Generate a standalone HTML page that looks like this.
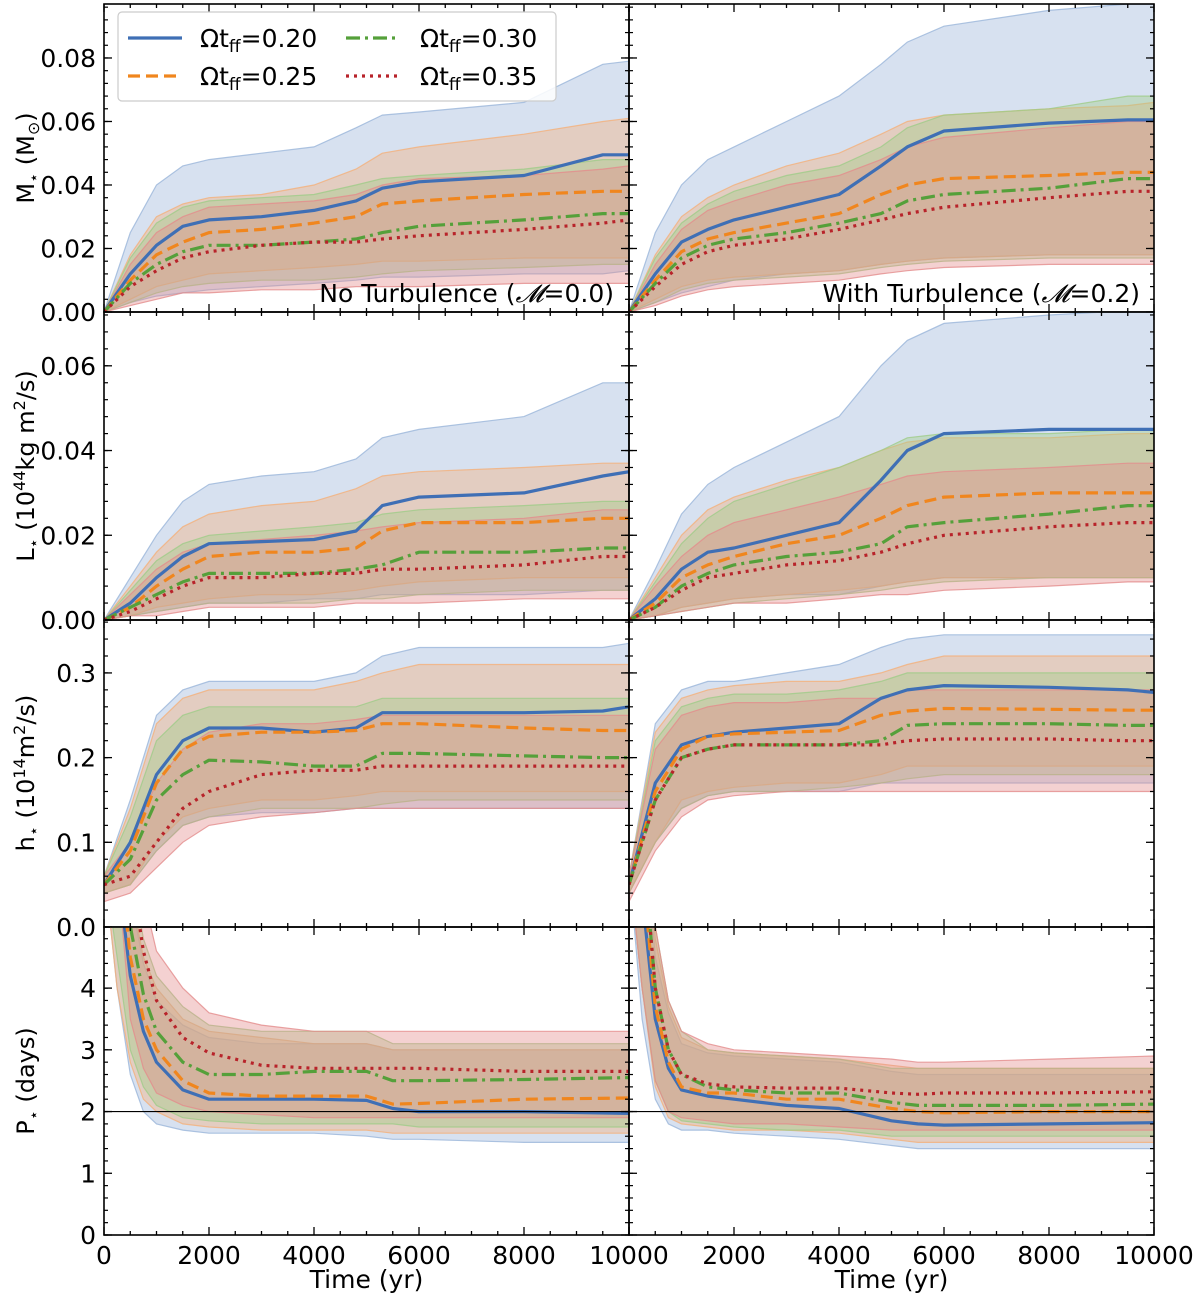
<!DOCTYPE html>
<html><head><meta charset="utf-8">
<style>
body{margin:0;background:#fff;}
svg{font-family:"DejaVu Sans","Liberation Sans",sans-serif;}
</style></head>
<body>
<svg id="fig" width="1200" height="1297" viewBox="0 0 1200 1297" xmlns="http://www.w3.org/2000/svg"></svg>
<script>
// ---------- data ----------
const seriesNames = ["Ωt_ff=0.20","Ωt_ff=0.25","Ωt_ff=0.30","Ωt_ff=0.35"];
const timeA = [0,500,1000,1500,2000,3000,4000,4800,5300,6000,8000,9500,10000];
const timeP = [0,250,500,750,1000,1500,2000,3000,4000,5000,5500,6000,8000,10000];
const xTicks = [0,2000,4000,6000,8000,10000];

const mNoLine = [[0,.012,.021,.027,.029,.030,.032,.035,.039,.041,.043,.0495,.0495],[0,.010,.018,.022,.025,.026,.028,.030,.034,.035,.037,.038,.038],[0,.009,.015,.019,.021,.021,.022,.023,.025,.027,.029,.031,.031],[0,.008,.013,.017,.019,.021,.022,.022,.023,.024,.026,.028,.029]];
const mNoUp = [[0,.025,.040,.046,.048,.050,.052,.058,.062,.063,.066,.078,.079],[0,.018,.030,.034,.036,.037,.040,.045,.050,.052,.056,.060,.061],[0,.017,.028,.033,.035,.036,.037,.040,.042,.043,.045,.048,.048],[0,.015,.025,.030,.033,.034,.035,.037,.040,.042,.043,.045,.046]];
const mNoLo = [[0,.003,.005,.006,.007,.008,.009,.010,.011,.011,.012,.012,.013],[0,.004,.008,.010,.012,.013,.014,.015,.016,.016,.017,.017,.017],[0,.003,.006,.008,.009,.010,.010,.011,.012,.013,.014,.015,.015],[0,.002,.004,.006,.006,.007,.007,.008,.008,.008,.009,.009,.009]];
const mTuLine = [[0,.012,.022,.026,.029,.033,.037,.046,.052,.057,.0595,.0605,.0605],[0,.010,.019,.023,.025,.028,.031,.037,.040,.042,.043,.044,.044],[0,.009,.017,.021,.023,.025,.028,.031,.035,.037,.039,.042,.042],[0,.008,.015,.019,.021,.023,.026,.029,.031,.033,.036,.038,.038]];
const mTuUp = [[0,.025,.040,.048,.052,.060,.068,.078,.085,.090,.095,.097,.097],[0,.018,.030,.036,.040,.046,.050,.056,.060,.062,.064,.065,.066],[0,.017,.028,.034,.038,.043,.046,.052,.058,.062,.064,.068,.068],[0,.015,.026,.032,.035,.040,.043,.048,.052,.055,.058,.060,.060]];
const mTuLo = [[0,.003,.006,.008,.010,.012,.013,.015,.016,.017,.018,.018,.018],[0,.004,.008,.010,.011,.012,.013,.015,.016,.017,.018,.018,.018],[0,.003,.007,.009,.010,.011,.012,.014,.015,.016,.017,.017,.017],[0,.002,.005,.007,.008,.009,.010,.012,.013,.014,.015,.015,.015]];
const lNoLine = [[0,.004,.010,.015,.018,.0185,.019,.021,.027,.029,.030,.034,.035],[0,.003,.008,.012,.015,.016,.016,.017,.021,.023,.023,.024,.024],[0,.003,.006,.009,.011,.011,.011,.012,.013,.016,.016,.017,.017],[0,.002,.005,.008,.010,.010,.011,.011,.012,.012,.013,.015,.015]];
const lNoUp = [[0,.010,.020,.028,.032,.034,.035,.038,.043,.045,.048,.056,.056],[0,.008,.016,.022,.025,.027,.028,.031,.034,.035,.036,.037,.037],[0,.007,.014,.018,.020,.021,.022,.023,.025,.026,.027,.028,.028],[0,.006,.012,.016,.018,.019,.020,.021,.022,.023,.024,.026,.026]];
const lNoLo = [[0,.001,.002,.003,.004,.004,.005,.005,.006,.006,.006,.007,.007],[0,.001,.003,.004,.005,.006,.006,.007,.008,.009,.010,.010,.010],[0,.001,.002,.003,.004,.004,.004,.005,.005,.006,.007,.007,.007],[0,.001,.001,.002,.003,.003,.003,.004,.004,.004,.005,.005,.005]];
const lTuLine = [[0,.005,.012,.016,.017,.020,.023,.033,.040,.044,.045,.045,.045],[0,.004,.010,.013,.015,.018,.020,.024,.027,.029,.030,.030,.030],[0,.003,.008,.011,.013,.015,.016,.018,.022,.023,.025,.027,.027],[0,.003,.007,.010,.011,.013,.014,.016,.018,.020,.022,.023,.023]];
const lTuUp = [[0,.012,.025,.032,.036,.042,.048,.060,.066,.070,.072,.073,.073],[0,.010,.020,.026,.029,.033,.036,.040,.042,.043,.043,.044,.044],[0,.009,.018,.024,.028,.032,.036,.040,.043,.044,.044,.045,.045],[0,.008,.015,.020,.023,.026,.029,.032,.034,.035,.036,.037,.037]];
const lTuLo = [[0,.001,.003,.004,.005,.006,.006,.008,.009,.010,.010,.010,.010],[0,.001,.003,.004,.005,.006,.007,.008,.009,.010,.010,.010,.010],[0,.001,.002,.003,.004,.005,.006,.007,.008,.009,.010,.010,.010],[0,.001,.002,.003,.004,.004,.005,.006,.006,.007,.008,.009,.009]];
const hNoLine = [[.05,.10,.18,.22,.235,.235,.23,.235,.253,.253,.253,.255,.26],[.05,.09,.17,.21,.225,.23,.23,.232,.24,.24,.235,.232,.232],[.05,.08,.15,.18,.197,.195,.19,.19,.205,.205,.202,.20,.20],[.05,.06,.10,.14,.16,.18,.185,.185,.19,.19,.19,.19,.19]];
const hNoUp = [[.06,.15,.25,.28,.29,.29,.29,.30,.32,.33,.33,.33,.335],[.06,.14,.24,.27,.28,.28,.28,.29,.30,.31,.31,.31,.31],[.06,.13,.22,.25,.26,.26,.26,.26,.27,.27,.27,.27,.27],[.06,.10,.17,.21,.23,.24,.24,.245,.25,.25,.25,.25,.25]];
const hNoLo = [[.04,.05,.09,.12,.13,.135,.135,.14,.14,.14,.14,.14,.14],[.04,.05,.10,.13,.14,.15,.15,.155,.16,.16,.16,.16,.16],[.04,.05,.09,.12,.13,.14,.14,.14,.145,.15,.15,.15,.15],[.03,.04,.07,.10,.12,.13,.135,.14,.14,.14,.14,.14,.14]];
const hTuLine = [[.05,.17,.215,.225,.23,.235,.24,.27,.28,.285,.283,.28,.277],[.05,.16,.21,.225,.228,.23,.232,.25,.255,.258,.257,.256,.256],[.05,.15,.20,.21,.215,.215,.215,.22,.238,.24,.24,.238,.238],[.05,.15,.20,.21,.215,.215,.215,.215,.22,.222,.222,.22,.22]];
const hTuUp = [[.06,.24,.28,.29,.29,.30,.31,.33,.34,.345,.345,.345,.345],[.06,.23,.27,.28,.285,.29,.29,.30,.31,.32,.32,.32,.32],[.06,.22,.26,.27,.275,.275,.28,.29,.30,.30,.30,.30,.30],[.06,.21,.25,.26,.265,.265,.27,.27,.28,.28,.28,.28,.28]];
const hTuLo = [[.04,.10,.14,.155,.16,.16,.16,.17,.17,.17,.17,.17,.17],[.04,.10,.15,.16,.165,.17,.17,.18,.19,.19,.19,.19,.19],[.04,.10,.14,.155,.16,.16,.165,.17,.175,.18,.18,.18,.18],[.03,.09,.13,.15,.155,.16,.16,.16,.16,.16,.16,.16,.16]];
const pNoLine = [[8,6,4.2,3.3,2.8,2.35,2.2,2.2,2.2,2.18,2.05,2.0,2.0,1.97],[8,6.5,4.5,3.5,3.0,2.5,2.3,2.25,2.25,2.25,2.12,2.13,2.2,2.22],[8,7,5,3.9,3.3,2.8,2.6,2.6,2.65,2.65,2.5,2.5,2.52,2.55],[9,9,6,4.6,3.8,3.2,2.95,2.75,2.7,2.7,2.7,2.7,2.65,2.65]];
const pNoUp = [[10,8,5.5,4.4,3.8,3.4,3.2,3.1,3.1,3.1,3.0,3.0,3.0,3.0],[10,8,5.6,4.5,4.0,3.5,3.3,3.2,3.1,3.1,3.0,3.0,3.0,3.0],[10,9,6,4.8,4.2,3.7,3.4,3.3,3.3,3.3,3.1,3.1,3.1,3.1],[12,12,8,5.5,4.6,4.0,3.6,3.4,3.3,3.3,3.3,3.3,3.3,3.3]];
const pNoLo = [[6,4,2.6,2.0,1.8,1.7,1.65,1.65,1.65,1.6,1.55,1.55,1.5,1.5],[6,4,2.8,2.2,2.0,1.8,1.75,1.7,1.7,1.7,1.65,1.65,1.65,1.65],[6,4.5,3,2.4,2.1,1.9,1.85,1.8,1.8,1.8,1.8,1.75,1.75,1.75],[7,6,3.5,2.7,2.3,2.1,2.0,1.95,1.9,1.9,1.9,1.9,1.9,1.9]];
const pTuLine = [[8,5.5,3.5,2.7,2.35,2.25,2.2,2.1,2.05,1.85,1.8,1.78,1.8,1.82],[8,6,3.7,2.8,2.4,2.3,2.3,2.2,2.2,2.05,2.0,1.98,2.0,2.0],[8,6.5,4,3,2.6,2.4,2.35,2.3,2.3,2.15,2.1,2.1,2.1,2.12],[8,6.5,4,3,2.6,2.45,2.4,2.38,2.38,2.3,2.28,2.3,2.3,2.32]];
const pTuUp = [[10,7,4.5,3.6,3.1,2.95,2.9,2.85,2.8,2.65,2.6,2.6,2.6,2.6],[10,7.5,4.8,3.7,3.2,3.0,2.95,2.9,2.85,2.75,2.7,2.7,2.7,2.7],[10,8,5,3.8,3.3,3.0,2.95,2.9,2.85,2.7,2.7,2.7,2.7,2.7],[10,8,5,3.8,3.3,3.1,3.0,2.95,2.9,2.85,2.8,2.8,2.85,2.9]];
const pTuLo = [[6,3.5,2.2,1.8,1.7,1.7,1.65,1.6,1.55,1.45,1.4,1.4,1.4,1.4],[6,4,2.4,1.9,1.8,1.75,1.7,1.7,1.65,1.55,1.5,1.5,1.5,1.5],[6,4,2.5,2.0,1.85,1.8,1.75,1.7,1.7,1.6,1.6,1.6,1.6,1.6],[6,4,2.5,2.0,1.9,1.85,1.8,1.8,1.75,1.7,1.7,1.7,1.7,1.7]];

const mTicks=[0,0.02,0.04,0.06,0.08], mTickLabels=["0.00","0.02","0.04","0.06","0.08"];
const lTicks=[0,0.02,0.04,0.06], lTickLabels=["0.00","0.02","0.04","0.06"];
const hTicks=[0,0.1,0.2,0.3], hTickLabels=["0.0","0.1","0.2","0.3"];
const pTicks=[0,1,2,3,4], pTickLabels=["0","1","2","3","4"];

// ---------- drawing ----------
const NS="http://www.w3.org/2000/svg";
const svg=document.getElementById('fig');
function mk(tag,attrs,parent){const e=document.createElementNS(NS,tag);for(const k in attrs)e.setAttribute(k,attrs[k]);(parent||svg).appendChild(e);return e;}
const colors=["#3f6fb5","#f0861e","#55a03a","#b8232a"];
const bandFill=["#9ab5da","#f4b07a","#9fcc88","#e38c8c"];
const dashes=["","12,6","14,5,3,5","3,5"];
const FS=25;
const X0L=104,X0R=629,PW=525;
const rows=[{top:4,bot:312,ymax:0.097,minor:0.004},{top:312,bot:620,ymax:0.0727,minor:0.004},{top:620,bot:927,ymax:0.3625,minor:0.02},{top:927,bot:1235,ymax:4.99,minor:0.2}];
const panels=[
 {r:0,c:0,t:timeA,line:mNoLine,up:mNoUp,lo:mNoLo,name:'mass-no-turbulence'},
 {r:0,c:1,t:timeA,line:mTuLine,up:mTuUp,lo:mTuLo,name:'mass-with-turbulence'},
 {r:1,c:0,t:timeA,line:lNoLine,up:lNoUp,lo:lNoLo,name:'angmom-no-turbulence'},
 {r:1,c:1,t:timeA,line:lTuLine,up:lTuUp,lo:lTuLo,name:'angmom-with-turbulence'},
 {r:2,c:0,t:timeA,line:hNoLine,up:hNoUp,lo:hNoLo,name:'specific-angmom-no-turbulence'},
 {r:2,c:1,t:timeA,line:hTuLine,up:hTuUp,lo:hTuLo,name:'specific-angmom-with-turbulence'},
 {r:3,c:0,t:timeP,line:pNoLine,up:pNoUp,lo:pNoLo,name:'period-no-turbulence'},
 {r:3,c:1,t:timeP,line:pTuLine,up:pTuUp,lo:pTuLo,name:'period-with-turbulence'}];
const defs=mk('defs',{});
panels.forEach((p,i)=>{
  const R=rows[p.r], x0=p.c?X0R:X0L;
  const sx=v=>x0+v/10000*PW;
  const sy=v=>R.bot-v/R.ymax*(R.bot-R.top);
  const cp=mk('clipPath',{id:'cp'+i},defs);
  mk('rect',{x:x0,y:R.top,width:PW,height:R.bot-R.top},cp);
  const g=mk('g',{'clip-path':'url(#cp'+i+')'});
  
  
  for(let s=0;s<4;s++){
    let d='M'+p.t.map((t,k)=>sx(t).toFixed(1)+','+sy(p.up[s][k]).toFixed(1)).join('L');
    for(let k=p.t.length-1;k>=0;k--)d+='L'+sx(p.t[k]).toFixed(1)+','+sy(p.lo[s][k]).toFixed(1);
    const b=mk('path',{d:d+'Z',fill:bandFill[s],'fill-opacity':0.4,stroke:bandFill[s],'stroke-opacity':0.8,'stroke-width':1.2},g);
    
    
  }
  for(let s=0;s<4;s++){
    const d='M'+p.t.map((t,k)=>sx(t).toFixed(1)+','+sy(p.line[s][k]).toFixed(1)).join('L');
    const l=mk('path',{d:d,fill:'none',stroke:colors[s],'stroke-width':3.2,'stroke-dasharray':dashes[s],'stroke-linejoin':'round'},g);
    
    
  }
  if(p.r===3){const hl=mk('line',{x1:x0,x2:x0+PW,y1:sy(2),y2:sy(2),stroke:'#000','stroke-width':1.2});
    }
  mk('rect',{x:x0,y:R.top,width:PW,height:R.bot-R.top,fill:'none',stroke:'#000','stroke-width':1.6});
  for(let t=0;t<=10000;t+=500){const maj=t%2000===0, L=maj?8:4;
    mk('line',{x1:sx(t),x2:sx(t),y1:R.bot,y2:R.bot-L,stroke:'#000','stroke-width':1.3});
    mk('line',{x1:sx(t),x2:sx(t),y1:R.top,y2:R.top+L,stroke:'#000','stroke-width':1.3});}
  const tk=[mTicks,lTicks,hTicks,pTicks][p.r];
  for(let v=0;v<=R.ymax+1e-9;v+=R.minor){const y=sy(v);
    mk('line',{x1:x0,x2:x0+4,y1:y,y2:y,stroke:'#000','stroke-width':1.2});mk('line',{x1:x0+PW,x2:x0+PW-4,y1:y,y2:y,stroke:'#000','stroke-width':1.2});}
  tk.forEach(v=>{const y=sy(v);
    mk('line',{x1:x0,x2:x0+8,y1:y,y2:y,stroke:'#000','stroke-width':1.3});mk('line',{x1:x0+PW,x2:x0+PW-8,y1:y,y2:y,stroke:'#000','stroke-width':1.3});});
  if(p.c===0){const labs=[mTickLabels,lTickLabels,hTickLabels,pTickLabels][p.r];
    tk.forEach((v,k)=>{const tx=mk('text',{x:x0-8,y:sy(v)+9,'text-anchor':'end','font-size':FS});tx.textContent=labs[k];
      });}
  if(p.r===3){xTicks.forEach(v=>{if(p.c===1&&v===0)return;if(p.c===0&&v===10000)return;
      const tx=mk('text',{x:sx(v),y:1264,'text-anchor':'middle','font-size':FS});tx.textContent=String(v);
      });
    const xt=mk('text',{x:x0+PW/2,y:1288,'text-anchor':'middle','font-size':FS});xt.textContent='Time (yr)';
    }
});
</script>
<svg width="1200" height="1297" style="position:absolute;left:0;top:0" font-family="DejaVu Sans, Liberation Sans, sans-serif">
 <text x="614" y="302" text-anchor="end" font-size="25">No Turbulence (<tspan font-style="italic">𝓜</tspan>=0.0)</text>
 <text x="1140" y="302" text-anchor="end" font-size="25">With Turbulence (<tspan font-style="italic">𝓜</tspan>=0.2)</text>
 <text transform="translate(34,158) rotate(-90)" text-anchor="middle" font-size="24">M<tspan font-size="16" dy="5">⋆</tspan><tspan dy="-5"> (M</tspan><tspan font-size="16" dy="5">⊙</tspan><tspan dy="-5">)</tspan></text>
 <text transform="translate(34,466) rotate(-90)" text-anchor="middle" font-size="24">L<tspan font-size="16" dy="5">⋆</tspan><tspan dy="-5"> (10</tspan><tspan font-size="16" dy="-9">44</tspan><tspan dy="9">kg m</tspan><tspan font-size="16" dy="-9">2</tspan><tspan dy="9">/s)</tspan></text>
 <text transform="translate(34,773) rotate(-90)" text-anchor="middle" font-size="24">h<tspan font-size="16" dy="5">⋆</tspan><tspan dy="-5"> (10</tspan><tspan font-size="16" dy="-9">14</tspan><tspan dy="9">m</tspan><tspan font-size="16" dy="-9">2</tspan><tspan dy="9">/s)</tspan></text>
 <text transform="translate(34,1081) rotate(-90)" text-anchor="middle" font-size="24">P<tspan font-size="16" dy="5">⋆</tspan><tspan dy="-5"> (days)</tspan></text>
 <g>
  <rect x="118" y="12" width="438" height="89" rx="4" fill="#fff" fill-opacity="0.85" stroke="#ccc" stroke-width="1.2"/>
  <line x1="128" x2="182" y1="38" y2="38" stroke="#3f6fb5" stroke-width="3.2"/>
  <text x="200" y="47" font-size="25">Ωt<tspan font-size="17" dy="5">ff</tspan><tspan dy="-5">=0.20</tspan></text>
  <line x1="128" x2="182" y1="76" y2="76" stroke="#f0861e" stroke-width="3.2" stroke-dasharray="12,6"/>
  <text x="200" y="85" font-size="25">Ωt<tspan font-size="17" dy="5">ff</tspan><tspan dy="-5">=0.25</tspan></text>
  <line x1="346" x2="400" y1="38" y2="38" stroke="#55a03a" stroke-width="3.2" stroke-dasharray="14,5,3,5"/>
  <text x="420" y="47" font-size="25">Ωt<tspan font-size="17" dy="5">ff</tspan><tspan dy="-5">=0.30</tspan></text>
  <line x1="346" x2="400" y1="76" y2="76" stroke="#b8232a" stroke-width="3.2" stroke-dasharray="3,5"/>
  <text x="420" y="85" font-size="25">Ωt<tspan font-size="17" dy="5">ff</tspan><tspan dy="-5">=0.35</tspan></text>
 </g>
 <text x="629" y="1264" text-anchor="middle" font-size="25">10000</text>
</svg>
</body></html>
